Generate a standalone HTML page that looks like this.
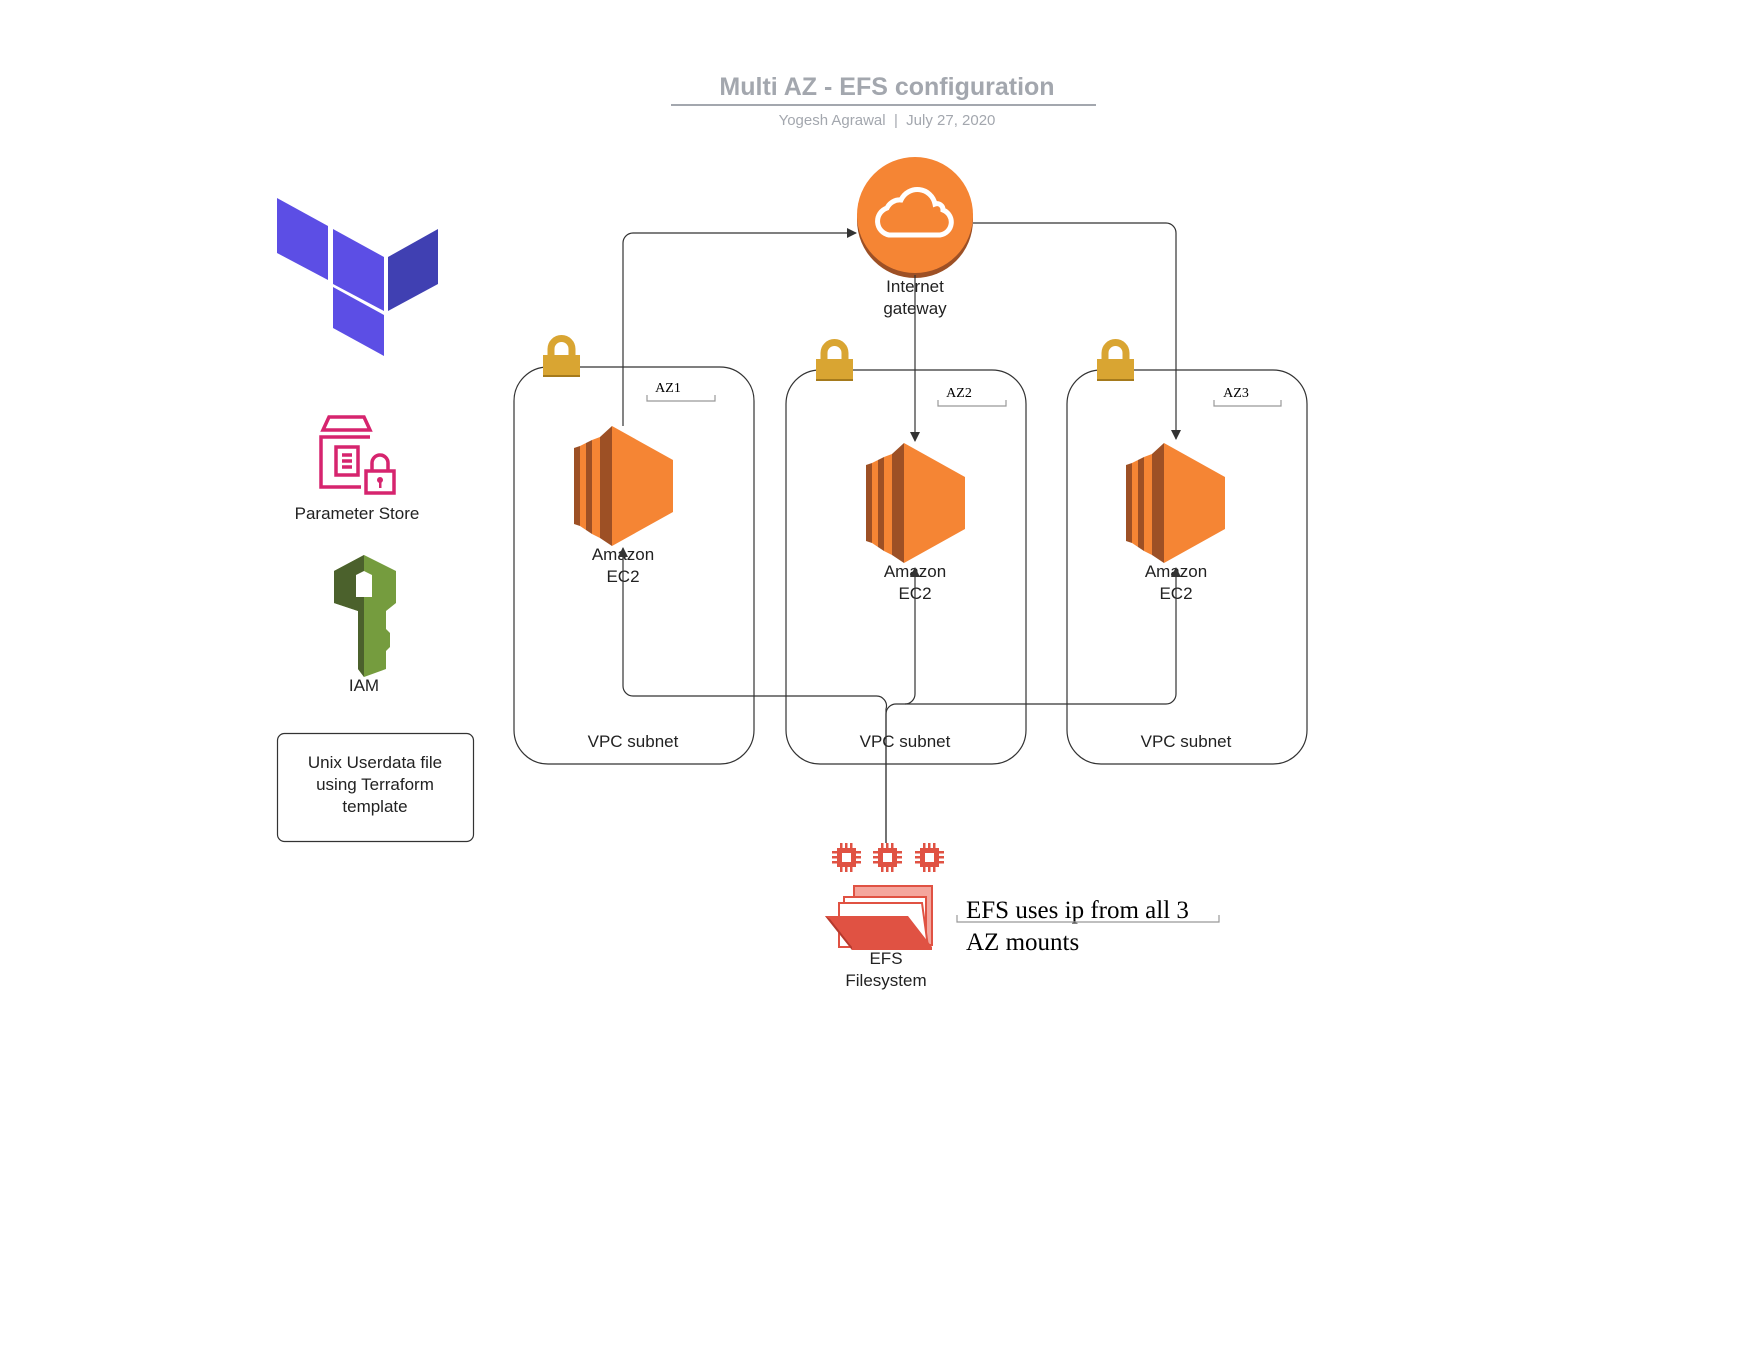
<!DOCTYPE html>
<html><head><meta charset="utf-8"><style>
html,body{margin:0;padding:0;background:#fff;}
svg{display:block;font-family:"Liberation Sans",sans-serif;}
</style></head><body>
<svg width="1760" height="1360" viewBox="0 0 1760 1360" xmlns="http://www.w3.org/2000/svg">
<defs>
<marker id="ar" markerWidth="10" markerHeight="10" refX="9" refY="5" orient="auto" markerUnits="userSpaceOnUse">
<path d="M0,0 L10,5 L0,10 z" fill="#333"/></marker>
<g id="lock"><path d="M8,22 V14 a10.5,10.5 0 0 1 21,0 V22" fill="none" stroke="#d9a532" stroke-width="7"/><rect x="0" y="20" width="37" height="22" fill="#d9a532"/><rect x="0" y="40" width="37" height="2" fill="#a57a1c"/></g>
<g id="ec2">
<polygon points="0,22 6,20 6,100 0,98" fill="#9d5025"/>
<polygon points="6,20 12,17 12,104 6,100" fill="#f58534"/>
<polygon points="12,17 18,14 18,108 12,104" fill="#9d5025"/>
<polygon points="18,14 26,11 26,112 18,108" fill="#f58534"/>
<polygon points="26,11 38,0 38,120 26,112" fill="#9d5025"/>
<polygon points="38,0 99,34 99,86 38,120" fill="#f58534"/>
</g>
<g id="chip" fill="#e05243"><rect x="5" y="5" width="19" height="19"/><rect x="0" y="8" width="29" height="2.5"/><rect x="0" y="13" width="29" height="2.5"/><rect x="0" y="18" width="29" height="2.5"/><rect x="8" y="0" width="2.5" height="29"/><rect x="13" y="0" width="2.5" height="29"/><rect x="18" y="0" width="2.5" height="29"/><rect x="10" y="10" width="9" height="9" fill="#fff"/></g>
</defs>
<g transform="translate(-4,-3)">
<!-- title -->
<text x="891" y="98" text-anchor="middle" font-size="25" font-weight="bold" fill="#a3a7ae">Multi AZ - EFS configuration</text>
<line x1="675" y1="108" x2="1100" y2="108" stroke="#a3a7ae" stroke-width="2"/>
<text x="891" y="128" text-anchor="middle" font-size="15" fill="#a3a7ae" xml:space="preserve">Yogesh Agrawal  |  July 27, 2020</text>

<!-- terraform -->
<polygon points="281,201 332,229 332,283 281,256" fill="#5c4ee5"/>
<polygon points="337,232 388,260 388,314 337,287" fill="#5c4ee5"/>
<polygon points="392,260 442,232 442,287 392,314" fill="#4040b2"/>
<polygon points="337,290 388,318 388,359 337,331" fill="#5c4ee5"/>

<!-- parameter store -->
<g fill="none" stroke="#d6246e" stroke-width="3.5">
<path d="M327,433 L333,420 L368,420 L374,433 Z"/>
<path d="M374,440 H325 V490 H365"/>
<rect x="340" y="450" width="22" height="28"/>
<line x1="346" y1="458" x2="356" y2="458"/><line x1="346" y1="464" x2="356" y2="464"/><line x1="346" y1="470" x2="356" y2="470"/>
<rect x="370" y="474" width="28" height="22"/>
<path d="M376,474 V466 a8,8 0 0 1 16,0 V474"/>
</g>
<circle cx="384" cy="483" r="3" fill="#d6246e"/><rect x="383" y="484" width="2.5" height="7" fill="#d6246e"/>
<text x="361" y="522" text-anchor="middle" font-size="17" fill="#222">Parameter Store</text>

<!-- IAM key -->
<polygon points="368,558 400,574 400,606 390,614 390,632 394,636 394,650 390,654 390,672 368,680 362,672 362,614 338,606 338,574" fill="#759c3e"/>
<polygon points="368,558 338,574 338,606 362,614 362,672 368,680" fill="#4b612c"/>
<polygon points="360,578 368,574 376,578 376,600 360,600" fill="#fff"/>
<text x="368" y="694" text-anchor="middle" font-size="17" fill="#222">IAM</text>

<!-- unix box -->
<rect x="281.5" y="736.5" width="196" height="108" rx="7" fill="#fff" stroke="#333" stroke-width="1.2"/>
<text font-size="17" fill="#222" text-anchor="middle"><tspan x="379" y="771">Unix Userdata file</tspan><tspan x="379" y="793">using Terraform</tspan><tspan x="379" y="815">template</tspan></text>

<!-- subnet boxes -->
<g fill="none" stroke="#333" stroke-width="1.2">
<rect x="518" y="370" width="240" height="397" rx="34"/>
<rect x="790" y="373" width="240" height="394" rx="34"/>
<rect x="1071" y="373" width="240" height="394" rx="34"/>
</g>
<use href="#lock" x="547" y="338"/>
<use href="#lock" x="820" y="342"/>
<use href="#lock" x="1101" y="342"/>

<g font-family="Liberation Serif,serif" font-size="14" fill="#000" text-anchor="middle">
<text x="672" y="395">AZ1</text><text x="963" y="400">AZ2</text><text x="1240" y="400">AZ3</text></g>
<g fill="none" stroke="#999" stroke-width="1.2">
<path d="M651,398 V404 H719 V398"/><path d="M942,403 V409 H1010 V403"/><path d="M1218,403 V409 H1285 V403"/></g>

<!-- EC2 -->
<use href="#ec2" x="578" y="429"/>
<use href="#ec2" x="870" y="446"/>
<use href="#ec2" x="1130" y="446"/>
<g font-size="17" fill="#222" text-anchor="middle">
<text x="627" y="563">Amazon</text><text x="627" y="585">EC2</text>
<text x="919" y="580">Amazon</text><text x="919" y="602">EC2</text>
<text x="1180" y="580">Amazon</text><text x="1180" y="602">EC2</text>
<text x="637" y="750">VPC subnet</text><text x="909" y="750">VPC subnet</text><text x="1190" y="750">VPC subnet</text>
</g>

<!-- internet gateway -->
<circle cx="919" cy="223" r="58" fill="#9d5025"/>
<circle cx="919" cy="218" r="58" fill="#f58534"/>
<path d="M893,238 a14,14 0 0 1 -2,-27 a14,14 0 0 1 14,-8 a18,18 0 0 1 34,4 a6,6 0 0 1 8,6 a13,13 0 0 1 -3,25 Z" fill="none" stroke="#fff" stroke-width="5"/>
<text x="919" y="295" text-anchor="middle" font-size="17" fill="#222">Internet</text>
<text x="919" y="317" text-anchor="middle" font-size="17" fill="#222">gateway</text>

<!-- connectors -->
<g fill="none" stroke="#333" stroke-width="1.2">
<path d="M627,429 V246 a10,10 0 0 1 10,-10 H860" marker-end="url(#ar)"/>
<path d="M919,278 V444" marker-end="url(#ar)"/>
<path d="M977,226 H1170 a10,10 0 0 1 10,10 V442" marker-end="url(#ar)"/>
<path d="M890,846 V712 a10,10 0 0 0 -10,-13 H637 a10,10 0 0 1 -10,-10 V551" marker-end="url(#ar)"/>
<path d="M890,846 V717 a10,10 0 0 1 10,-10 H1170 a10,10 0 0 0 10,-10 V571" marker-end="url(#ar)"/>
<path d="M909,707 a10,10 0 0 0 10,-10 V571" marker-end="url(#ar)"/>
</g>

<!-- EFS -->
<use href="#chip" x="836" y="846"/>
<use href="#chip" x="877" y="846"/>
<use href="#chip" x="919" y="846"/>
<polygon points="858,889 936,889 936,948 858,948" fill="#f4a69d" stroke="#e05243" stroke-width="2"/>
<polygon points="848,900 930,900 930,950 848,950" fill="#fff" stroke="#e05243" stroke-width="2"/>
<polygon points="843,906 926,906 932,950 843,950" fill="#fff" stroke="#e05243" stroke-width="2"/>
<polygon points="829,919 912,919 936,950 936,953 856,953" fill="#e05243"/>
<polygon points="829,919 856,953 856,950 834,922" fill="#b53a2e"/>
<text x="890" y="967" text-anchor="middle" font-size="17" fill="#222">EFS</text>
<text x="890" y="989" text-anchor="middle" font-size="17" fill="#222">Filesystem</text>

<g font-family="Liberation Serif,serif" font-size="25" fill="#000">
<text x="970" y="921">EFS uses ip from all 3</text>
<text x="970" y="953">AZ mounts</text></g>
<path d="M961,918 V925 H1223 V918" fill="none" stroke="#999" stroke-width="1.2"/>
</g>
</svg>
</body></html>
